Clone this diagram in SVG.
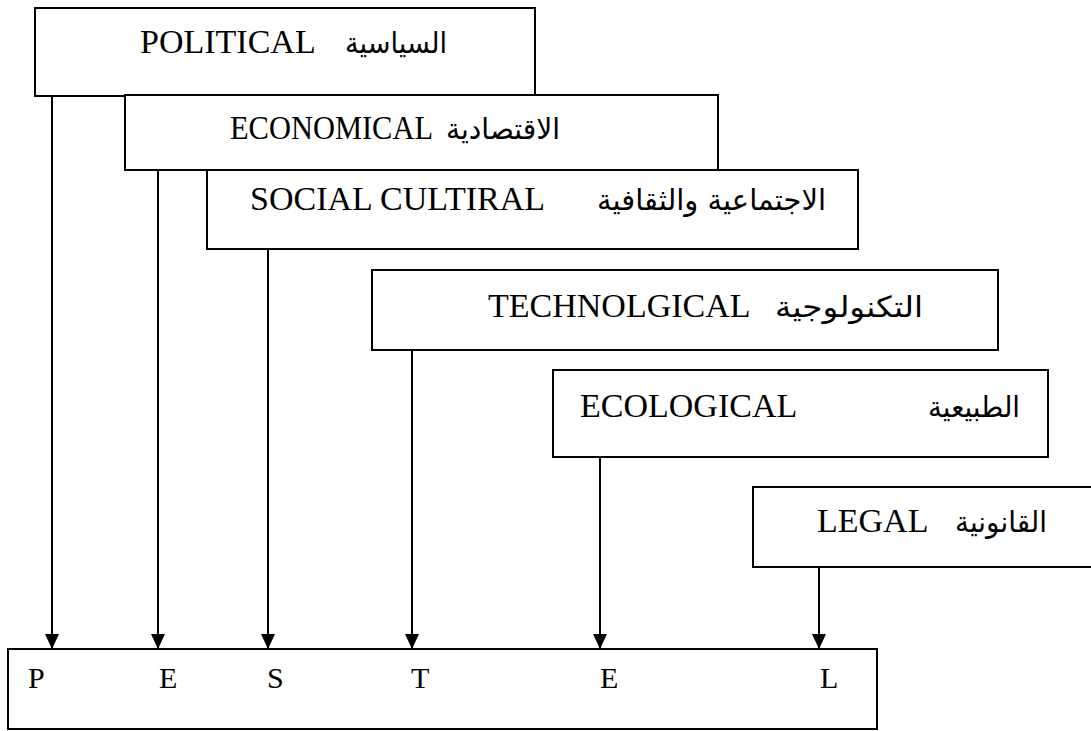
<svg xmlns="http://www.w3.org/2000/svg" width="1091" height="731" viewBox="0 0 1091 731">
<defs>
<style>
.box{fill:#fff;stroke:#000;stroke-width:2}
.en{font-family:"Liberation Serif","Times New Roman",serif;font-size:34px;fill:#000}
.ar{font-family:"DejaVu Sans","Noto Sans",sans-serif;font-size:29px;fill:#000}
.let{font-family:"Liberation Serif","Times New Roman",serif;font-size:30px;fill:#000}
.conn{stroke:#000;stroke-width:2;fill:none}
</style>
<marker id="ah" markerUnits="userSpaceOnUse" markerWidth="16" markerHeight="14" refX="15" refY="7" orient="auto" viewBox="0 0 16 14">
<path d="M0,0 L15,7 L0,14 Z" fill="#000"/>
</marker>
</defs>
<rect width="1091" height="731" fill="#fff"/>
<g id="node-political">
<rect class="box" x="35" y="8" width="500" height="88"/>
<text class="en" x="140" y="53">POLITICAL</text>
<text class="ar" x="447" y="53" text-anchor="end" textLength="102" lengthAdjust="spacingAndGlyphs">السياسية</text>
</g>
<g id="node-economical">
<rect class="box" x="125" y="95" width="593" height="75"/>
<text class="en" x="230" y="139" textLength="203" lengthAdjust="spacingAndGlyphs">ECONOMICAL</text>
<text class="ar" x="560" y="139" text-anchor="end" textLength="114" lengthAdjust="spacingAndGlyphs">الاقتصادية</text>
</g>
<g id="node-social">
<rect class="box" x="207" y="170" width="651" height="79"/>
<text class="en" x="250" y="210">SOCIAL CULTIRAL</text>
<text class="ar" x="826" y="210" text-anchor="end" textLength="229" lengthAdjust="spacingAndGlyphs">الاجتماعية والثقافية</text>
</g>
<g id="node-technological">
<rect class="box" x="372" y="270" width="626" height="80"/>
<text class="en" x="488" y="317">TECHNOLGICAL</text>
<text class="ar" x="923" y="317" text-anchor="end" textLength="148" lengthAdjust="spacingAndGlyphs">التكنولوجية</text>
</g>
<g id="node-ecological">
<rect class="box" x="553" y="370" width="495" height="87"/>
<text class="en" x="580" y="417">ECOLOGICAL</text>
<text class="ar" x="1020" y="417" text-anchor="end" textLength="92" lengthAdjust="spacingAndGlyphs">الطبيعية</text>
</g>
<g id="node-legal">
<rect class="box" x="753" y="487" width="345" height="80"/>
<text class="en" x="817" y="532">LEGAL</text>
<text class="ar" x="1047" y="532" text-anchor="end" textLength="92" lengthAdjust="spacingAndGlyphs">القانونية</text>
</g>
<g id="node-pestel">
<rect class="box" x="8" y="649" width="869" height="80"/>
<text class="let" x="28" y="688">P</text>
<text class="let" x="159" y="688">E</text>
<text class="let" x="267" y="688">S</text>
<text class="let" x="411" y="688">T</text>
<text class="let" x="600" y="688">E</text>
<text class="let" x="820" y="688">L</text>
</g>
<g id="connectors">
<line class="conn" x1="52" y1="96" x2="52" y2="649" marker-end="url(#ah)"/>
<line class="conn" x1="158" y1="170" x2="158" y2="649" marker-end="url(#ah)"/>
<line class="conn" x1="268" y1="249" x2="268" y2="649" marker-end="url(#ah)"/>
<line class="conn" x1="412" y1="350" x2="412" y2="649" marker-end="url(#ah)"/>
<line class="conn" x1="600" y1="457" x2="600" y2="649" marker-end="url(#ah)"/>
<line class="conn" x1="819" y1="567" x2="819" y2="649" marker-end="url(#ah)"/>
</g>
</svg>
